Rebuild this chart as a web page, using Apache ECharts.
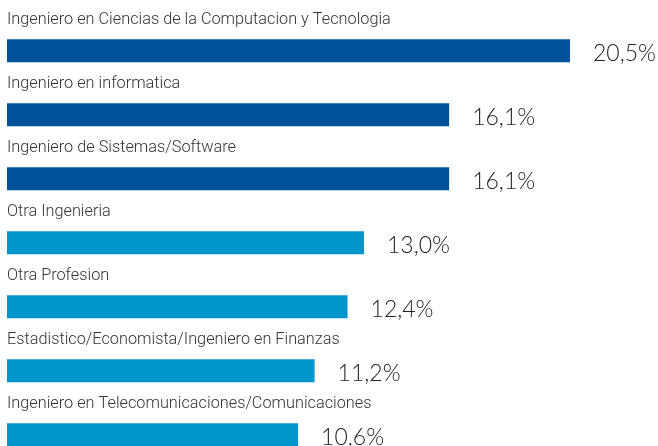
<!DOCTYPE html>
<html>
<head>
<meta charset="utf-8">
<script src="https://cdn.jsdelivr.net/npm/echarts@6/dist/echarts.min.js"></script>
<style>
html,body{margin:0;padding:0;background:#fff;}
#main{width:658px;height:446px;}
</style>
</head>
<body>
<div id="main"></div>
<script>
const categories = [
  'Ingeniero en Ciencias de la Computacion y Tecnologia',
  'Ingeniero en informatica',
  'Ingeniero de Sistemas/Software',
  'Otra Ingenieria',
  'Otra Profesion',
  'Estadistico/Economista/Ingeniero en Finanzas',
  'Ingeniero en Telecomunicaciones/Comunicaciones'
];
const values = [20.5, 16.1, 16.1, 13.0, 12.4, 11.2, 10.6];
const darkCount = 3;

const DARK = '#00529a';
const LIGHT = '#0096cc';

const chart = echarts.init(document.getElementById('main'));
chart.setOption({
  animation: false,
  grid: { left: 7, top: 18.8, width: 563, height: 448, containLabel: false, outerBoundsMode: 'none' },
  xAxis: { type: 'value', min: 0, max: 20.5, show: false },
  yAxis: { type: 'category', data: categories, inverse: true, show: false },
  series: [
    {
      type: 'bar',
      data: values,
      barWidth: 23,
      itemStyle: { color: p => p.dataIndex < darkCount ? DARK : LIGHT },
      label: {
        show: true,
        position: 'right',
        distance: 23,
        offset: [0, 3],
        fontFamily: 'Lato',
        fontWeight: 300,
        fontSize: 23,
        color: '#222',
        formatter: p => p.value.toFixed(1).replace('.', ',') + '%'
      }
    },
    {
      type: 'bar',
      data: values,
      barWidth: 23,
      barGap: '-100%',
      silent: true,
      itemStyle: { color: 'rgba(0,0,0,0)' },
      label: {
        show: true,
        position: [0, -19],
        align: 'left',
        verticalAlign: 'middle',
        fontFamily: 'Roboto',
        fontWeight: 300,
        fontSize: 16.3,
        color: '#333',
        formatter: p => p.name
      }
    }
  ]
});
</script>
</body>
</html>
